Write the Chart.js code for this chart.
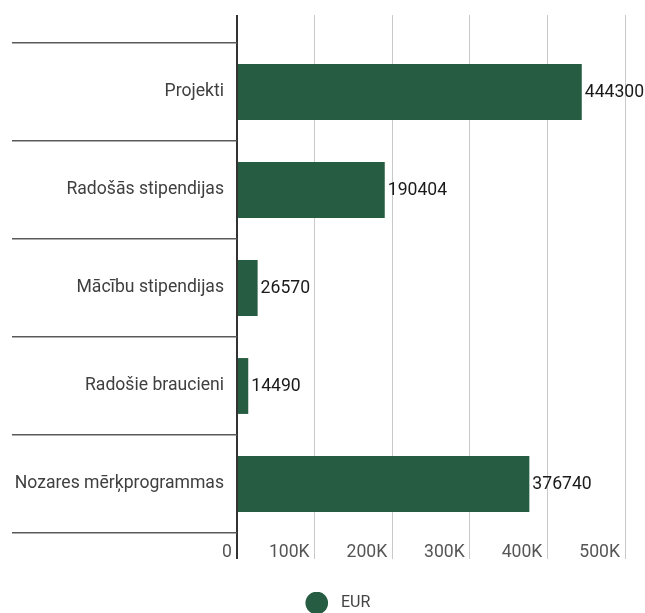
<!DOCTYPE html>
<html>
<head>
<meta charset="utf-8">
<script src="https://cdn.jsdelivr.net/npm/chart.js@4.4.0/dist/chart.umd.min.js"></script>
<style>
  body { margin: 0; background: #fff; }
  #wrap { width: 645px; height: 613px; }
</style>
</head>
<body>
<div id="wrap"><canvas id="myChart"></canvas></div>
<script>
const categories = ['Projekti', 'Radošās stipendijas', 'Mācību stipendijas', 'Radošie braucieni', 'Nozares mērķprogrammas'];
const eur = [444300, 190404, 26570, 14490, 376740];
const tickLabels = ['0', '100K', '200K', '300K', '400K', '500K'];

const barColor = '#265c41';
const gridColor = (c) => c.tick && c.tick.value === 0 ? '#333333' : '#c9c9c9';
const gridWidth = (c) => c.tick && c.tick.value === 0 ? 2 : 1;

// value next to the end of each bar
const valueLabels = {
    id: 'valueLabels',
    afterDatasetsDraw(chart) {
        const ctx = chart.ctx;
        const meta = chart.getDatasetMeta(0);
        ctx.save();
        ctx.font = '17.6px Roboto';
        ctx.fillStyle = '#1a1a1a';
        ctx.textAlign = 'left';
        ctx.textBaseline = 'middle';
        meta.data.forEach((bar, i) => {
            ctx.fillText(String(chart.data.datasets[0].data[i]), bar.x + 3, bar.y + 1);
        });
        ctx.restore();
    }
};

// nudge the legend a bit right and down
const legendShift = {
    id: 'legendShift',
    afterLayout(chart) {
        const lg = chart.legend;
        lg.left += 21;
        lg.right += 21;
        lg.top += 8;
        lg.bottom += 8;
    }
};

const ctx = document.getElementById('myChart').getContext('2d');
const chart = new Chart(ctx, {
    type: 'bar',
    data: {
        labels: categories,
        datasets: [{
            label: 'EUR',
            data: eur,
            backgroundColor: barColor,
            borderWidth: 0,
            barPercentage: 0.57,
            categoryPercentage: 1
        }]
    },
    options: {
        indexAxis: 'y',
        responsive: true,
        maintainAspectRatio: false,
        animation: false,
        layout: { padding: { left: 12, right: 20, top: 15, bottom: 0 } },
        scales: {
            x: {
                type: 'linear',
                position: 'bottom',
                min: 0,
                max: 500000,
                border: { display: false },
                grid: { color: gridColor, lineWidth: gridWidth, tickLength: 26 },
                ticks: {
                    stepSize: 100000,
                    align: 'end',
                    labelOffset: -5,
                    padding: -17,
                    color: '#555555',
                    font: { family: 'Roboto', size: 17.6 },
                    callback: (v) => tickLabels[v / 100000]
                },
                afterFit: (scale) => { scale.height = 51; }
            },
            x2: {
                type: 'linear',
                position: 'top',
                min: 0,
                max: 500000,
                border: { display: false },
                grid: { color: gridColor, lineWidth: gridWidth, tickLength: 28, drawOnChartArea: false },
                ticks: { display: false, stepSize: 100000 }
            },
            y: {
                border: { display: false },
                grid: { offset: true, drawOnChartArea: false, tickLength: 225, color: '#5a5a5a', lineWidth: 1.5 },
                ticks: {
                    padding: -212,
                    color: '#3f3f3f',
                    font: { family: 'Roboto', size: 17.6 }
                },
                afterFit: (scale) => { scale.width = 225; }
            }
        },
        plugins: {
            legend: {
                position: 'bottom',
                labels: {
                    usePointStyle: true,
                    pointStyle: 'circle',
                    padding: 3,
                    color: '#444444',
                    font: { family: 'Roboto', size: 16 },
                    generateLabels: (chart) => Chart.defaults.plugins.legend.labels.generateLabels(chart)
                        .map((item) => Object.assign(item, { text: '\u2002' + item.text }))
                }
            },
            tooltip: { enabled: false }
        }
    },
    plugins: [valueLabels, legendShift]
});
</script>
</body>
</html>
